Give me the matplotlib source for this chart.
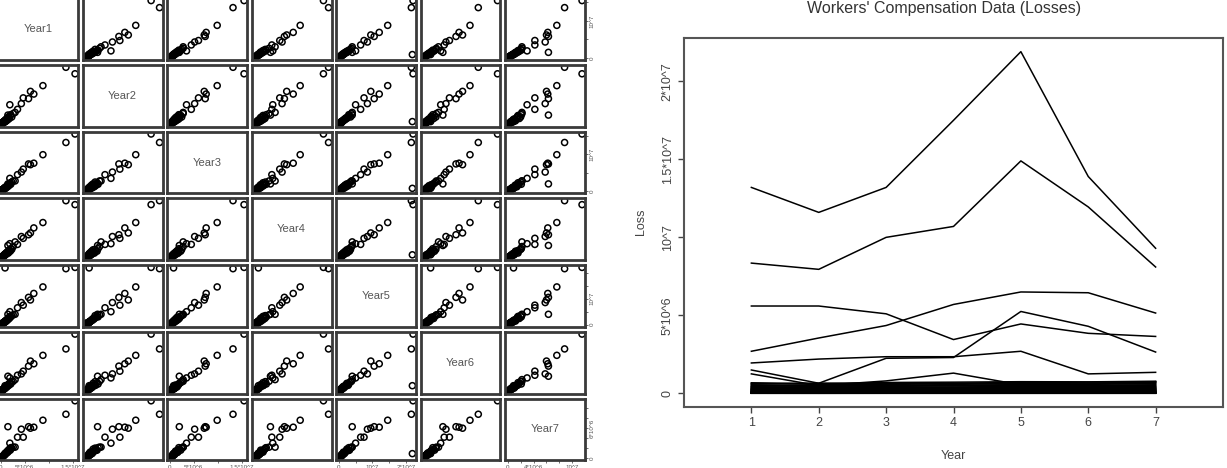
import numpy as np
import matplotlib
matplotlib.use('Agg')
import matplotlib.pyplot as plt

plt.rcParams['font.family'] = ['Liberation Sans', 'DejaVu Sans']

# ---- data (in millions) ----
years = [1, 2, 3, 4, 5, 6, 7]
year_names = ['Year1', 'Year2', 'Year3', 'Year4', 'Year5', 'Year6', 'Year7']

# payroll by class for the scatter matrix
pay_y1 = [15.5, 13.6, 0.9, 8.8, 6.9, 6.2, 5.8, 4.7, 4.3, 1.9, 3.5, 3.0, 1.5,
          2.6, 2.3, 2.1, 2.0, 1.8, 1.7, 1.6, 1.5, 1.4, 1.3, 1.2, 1.1, 1.0, 0.95, 0.9, 0.85,
          0.8, 0.75, 0.7, 0.65, 0.6, 0.55, 0.5, 0.45, 0.4, 0.35, 0.3, 0.28, 0.25, 0.2,
          0.18, 0.15, 0.12, 0.1, 0.08, 0.05]
pay_y2 = [13.3, 15.0, 0.8, 10.2, 8.0, 8.7, 6.8, 7.0, 5.5, 5.2, 4.0, 3.2, 2.5,
          2.9, 2.0, 2.6, 2.4, 1.6, 2.1, 1.9, 1.3, 1.8, 1.5, 1.0, 1.4, 1.2, 0.8, 1.1, 1.0,
          0.7, 0.9, 0.9, 0.6, 0.8, 0.5, 0.7, 0.4, 0.5, 0.45, 0.35, 0.3, 0.3, 0.25,
          0.2, 0.18, 0.15, 0.12, 0.1, 0.06]
pay_y3 = [15.5, 13.2, 0.8, 9.9, 7.6, 7.2, 7.4, 6.0, 5.2, 3.5, 4.5, 2.8, 2.0,
          2.8, 2.5, 1.9, 2.3, 2.0, 1.5, 1.8, 1.7, 1.2, 1.5, 1.3, 0.9, 1.1, 1.0, 0.8, 1.0,
          0.9, 0.6, 0.8, 0.7, 0.5, 0.6, 0.55, 0.5, 0.35, 0.4, 0.3, 0.32, 0.22, 0.25,
          0.2, 0.14, 0.15, 0.1, 0.09, 0.05]
pay_y4 = [14.9, 16.0, 0.9, 9.9, 8.4, 7.0, 6.5, 5.5, 6.0, 4.0, 3.8, 4.5, 3.5,
          3.2, 2.4, 2.6, 1.9, 2.3, 2.0, 1.4, 1.9, 1.6, 1.2, 1.5, 1.3, 0.9, 1.2, 1.0, 0.8,
          1.0, 0.9, 0.6, 0.8, 0.7, 0.5, 0.6, 0.45, 0.5, 0.3, 0.35, 0.3, 0.28, 0.2,
          0.22, 0.18, 0.12, 0.12, 0.08, 0.06]
pay_y5 = [22.0, 21.5, 21.8, 14.5, 12.0, 9.5, 10.5, 7.5, 8.5, 5.0, 6.5, 4.0, 4.0,
          3.8, 3.5, 3.0, 3.2, 2.4, 2.8, 2.5, 1.9, 2.2, 1.8, 1.4, 1.7, 1.5, 1.1, 1.3, 1.2,
          0.9, 1.1, 1.0, 0.7, 0.9, 0.8, 0.6, 0.7, 0.5, 0.55, 0.4, 0.45, 0.35, 0.3,
          0.28, 0.22, 0.2, 0.15, 0.12, 0.08]
pay_y6 = [17.0, 12.6, 1.7, 10.7, 8.2, 9.0, 7.5, 6.0, 5.2, 4.0, 4.8, 3.5, 4.5,
          3.0, 2.9, 2.2, 2.6, 2.4, 1.8, 2.0, 1.7, 1.9, 1.3, 1.5, 1.4, 1.0, 1.2, 1.1, 0.9,
          0.8, 1.0, 0.7, 0.8, 0.6, 0.7, 0.5, 0.55, 0.45, 0.4, 0.38, 0.3, 0.3, 0.22,
          0.2, 0.17, 0.15, 0.11, 0.1, 0.06]
pay_y7 = [11.5, 8.8, 0.9, 7.6, 6.2, 6.0, 6.3, 4.2, 5.8, 3.0, 4.2, 2.2, 6.3,
          2.2, 2.0, 2.1, 1.6, 1.8, 1.5, 1.6, 1.2, 1.4, 1.1, 1.2, 0.9, 1.0, 0.8, 0.9, 0.7,
          0.75, 0.6, 0.65, 0.5, 0.55, 0.45, 0.45, 0.35, 0.38, 0.3, 0.26, 0.25, 0.2, 0.18,
          0.15, 0.14, 0.1, 0.09, 0.06, 0.04]

# losses by class for the line chart
loss_y1 = [13.2, 8.35, 5.6, 2.7, 1.95, 1.5, 1.25,
           0.68, 0.64, 0.6, 0.55, 0.5, 0.46, 0.42, 0.4, 0.36, 0.33, 0.3, 0.28, 0.26, 0.24,
           0.22, 0.2, 0.18, 0.16, 0.15, 0.13, 0.12, 0.1, 0.09, 0.08, 0.07, 0.06, 0.05,
           0.04, 0.035, 0.03, 0.025, 0.02, 0.015, 0.01, 0.008, 0.005]
loss_y2 = [11.6, 7.95, 5.6, 3.55, 2.2, 0.65, 0.5,
           0.62, 0.58, 0.66, 0.5, 0.45, 0.52, 0.38, 0.42, 0.33, 0.36, 0.27, 0.3, 0.24, 0.26,
           0.2, 0.22, 0.16, 0.18, 0.13, 0.15, 0.11, 0.12, 0.08, 0.09, 0.06, 0.07, 0.045,
           0.05, 0.03, 0.035, 0.02, 0.025, 0.012, 0.015, 0.006, 0.004]
loss_y3 = [13.2, 10.0, 5.1, 4.35, 2.35, 2.25, 0.8,
           0.7, 0.6, 0.62, 0.58, 0.48, 0.5, 0.44, 0.36, 0.4, 0.3, 0.32, 0.26, 0.28, 0.21,
           0.24, 0.18, 0.2, 0.15, 0.16, 0.12, 0.13, 0.1, 0.1, 0.07, 0.08, 0.055, 0.06,
           0.04, 0.04, 0.028, 0.03, 0.018, 0.02, 0.01, 0.009, 0.004]
loss_y4 = [17.5, 10.7, 3.45, 5.7, 2.35, 2.3, 1.3,
           0.72, 0.66, 0.58, 0.62, 0.52, 0.47, 0.5, 0.4, 0.38, 0.34, 0.35, 0.29, 0.27, 0.25,
           0.22, 0.23, 0.17, 0.19, 0.14, 0.16, 0.11, 0.13, 0.09, 0.1, 0.065, 0.075, 0.05,
           0.045, 0.038, 0.03, 0.028, 0.02, 0.017, 0.012, 0.007, 0.005]
loss_y5 = [21.9, 14.9, 4.45, 6.5, 2.7, 5.25, 0.55,
           0.75, 0.7, 0.64, 0.6, 0.56, 0.5, 0.45, 0.46, 0.38, 0.4, 0.31, 0.33, 0.28, 0.25,
           0.26, 0.2, 0.21, 0.17, 0.16, 0.14, 0.13, 0.11, 0.1, 0.085, 0.08, 0.06, 0.055,
           0.045, 0.04, 0.032, 0.026, 0.022, 0.016, 0.011, 0.008, 0.004]
loss_y6 = [13.9, 11.95, 3.85, 6.45, 1.25, 4.3, 0.6,
           0.74, 0.72, 0.66, 0.58, 0.6, 0.5, 0.48, 0.42, 0.4, 0.36, 0.33, 0.3, 0.3, 0.25,
           0.24, 0.21, 0.19, 0.18, 0.15, 0.15, 0.12, 0.12, 0.1, 0.08, 0.085, 0.06, 0.06,
           0.045, 0.04, 0.033, 0.028, 0.02, 0.018, 0.012, 0.007, 0.005]
loss_y7 = [9.3, 8.1, 3.65, 5.15, 1.35, 2.65, 0.75,
           0.78, 0.73, 0.7, 0.65, 0.6, 0.55, 0.5, 0.46, 0.42, 0.38, 0.36, 0.32, 0.3, 0.27,
           0.25, 0.22, 0.2, 0.19, 0.16, 0.15, 0.13, 0.12, 0.1, 0.09, 0.08, 0.065, 0.06,
           0.05, 0.04, 0.035, 0.028, 0.022, 0.017, 0.012, 0.008, 0.005]

# axis tick values and labels
pair_ticks = {
    0: [0, 5e6, 1e7, 1.5e7],
    2: [0, 5e6, 1e7, 1.5e7],
    4: [0, 5e6, 1e7, 1.5e7, 2e7],
    6: [0, 2e6, 4e6, 6e6, 8e6, 1e7],
}
bottom_labels = {
    0: ['0', '5*10^6', '', '1.5*10^7'],
    2: ['0', '5*10^6', '', '1.5*10^7'],
    4: ['0', '', '10^7', '', '2*10^7'],
    6: ['0', '', '4*10^6', '', '', '10^7'],
}
right_labels = {
    0: ['0', '', '10^7', ''],
    2: ['0', '', '10^7', ''],
    4: ['0', '', '10^7', '', ''],
    6: ['0', '', '', '6*10^6', '', ''],
}
loss_yticks = [0, 5e6, 1e7, 1.5e7, 2e7]
loss_ylabels = ['0', '5*10^6', '10^7', '1.5*10^7', '2*10^7']

payroll = np.array([pay_y1, pay_y2, pay_y3, pay_y4, pay_y5, pay_y6, pay_y7]) * 1e6
losses = np.array([loss_y1, loss_y2, loss_y3, loss_y4, loss_y5, loss_y6, loss_y7]) * 1e6

W, H = 1227, 468
fig = plt.figure(figsize=(W / 100, H / 100), dpi=100)


def px_axes(left, top, width, height):
    return fig.add_axes([left / W, 1 - (top + height) / H, width / W, height / H])


def padded(v):
    lo, hi = v.min(), v.max()
    d = (hi - lo) * 0.04
    return lo - d, hi + d


# ---- scatter matrix (left) ----
for i in range(7):
    for j in range(7):
        ax = px_axes(-2 + j * 84.5, -1.7 + i * 66.7, 80, 61.7)
        ax.set_xlim(padded(payroll[j]))
        ax.set_ylim(padded(payroll[i]))
        for s in ax.spines.values():
            s.set_linewidth(2.0)
            s.set_color('#3a3a3a')
        ax.set_xticks([])
        ax.set_yticks([])
        if i == j:
            ax.text(0.5, 0.5, year_names[i], transform=ax.transAxes, ha='center',
                    va='center', fontsize=8, color='#555555')
        else:
            ax.scatter(payroll[j], payroll[i], s=19, facecolors='none',
                       edgecolors='black', linewidths=1.1)
        if i == 6 and j in bottom_labels:
            ax.set_xticks(pair_ticks[j])
            ax.set_xticklabels(bottom_labels[j])
            ax.tick_params(axis='x', length=2.5, width=0.6, pad=1, labelsize=4.5,
                           colors='#555555')
        if j == 6 and i in right_labels:
            ax.yaxis.tick_right()
            ax.set_yticks(pair_ticks[i])
            ax.set_yticklabels(right_labels[i], rotation=90, va='center')
            ax.tick_params(axis='y', length=2.5, width=0.6, pad=1, labelsize=4.5,
                           colors='#555555')

# ---- loss lines (right) ----
ax = px_axes(684, 38, 539, 369)
for k in range(losses.shape[1]):
    ax.plot(years, losses[:, k], color='black', lw=1.1)
ax.set_xlim(0, 8)
ax.set_ylim(padded(losses))
ax.set_xticks(years)
ax.set_yticks(loss_yticks)
ax.set_yticklabels(loss_ylabels, rotation=90, va='center')
ax.tick_params(length=4.5, width=1.0, colors='#444444', labelsize=9, pad=3)
for s in ax.spines.values():
    s.set_linewidth(1.5)
    s.set_color('#555555')

fig.text(944 / W, 1 - 8 / H, "Workers' Compensation Data (Losses)", ha='center',
         va='center', fontsize=11.5, color='#333333')
fig.text(641 / W, 1 - 222 / H, 'Loss', rotation=90, ha='center', va='center',
         fontsize=9, color='#444444')
fig.text(953 / W, 1 - 456 / H, 'Year', ha='center', va='center',
         fontsize=9, color='#444444')

fig.savefig('out.png', dpi=100)
